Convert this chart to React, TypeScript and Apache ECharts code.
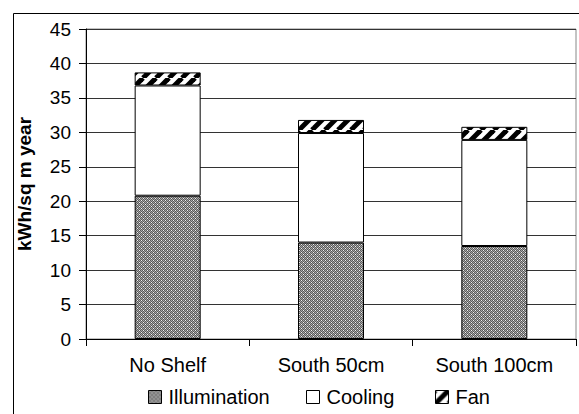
import React, { useEffect, useRef } from "react";
import * as echarts from "echarts";

const categories = ["No Shelf", "South 50cm", "South 100cm"];
const illumination = [20.8, 14.0, 13.5];
const cooling = [16.0, 15.9, 15.4];
const fan = [1.9, 1.9, 1.9];
const seriesNames = ["Illumination", "Cooling", "Fan"];
const yTicks = { min: 0, max: 45, interval: 5 };

const FONT = "Liberation Sans, Arial, sans-serif";

function checkerPattern(): HTMLCanvasElement {
  const c = document.createElement("canvas");
  c.width = 4;
  c.height = 4;
  const ctx = c.getContext("2d")!;
  ctx.fillStyle = "#a8a8a8";
  ctx.fillRect(0, 0, 4, 4);
  ctx.fillStyle = "#595959";
  for (let y = 0; y < 4; y++) {
    for (let x = 0; x < 4; x++) {
      if ((x + y) % 2 === 0) ctx.fillRect(x, y, 1, 1);
    }
  }
  ctx.fillStyle = "#f0f0f0";
  ctx.fillRect(1, 0, 1, 1);
  ctx.fillRect(3, 2, 1, 1);
  return c;
}

function stripePattern(): HTMLCanvasElement {
  const s = 13;
  const c = document.createElement("canvas");
  c.width = s;
  c.height = s;
  const ctx = c.getContext("2d")!;
  ctx.fillStyle = "#ffffff";
  ctx.fillRect(0, 0, s, s);
  ctx.strokeStyle = "#000000";
  ctx.lineWidth = 5;
  for (const off of [-s, 0, s]) {
    ctx.beginPath();
    ctx.moveTo(off, s);
    ctx.lineTo(off + s, 0);
    ctx.stroke();
  }
  return c;
}

export default function App() {
  const ref = useRef<HTMLDivElement>(null);

  useEffect(() => {
    if (!ref.current) return;
    const chart = echarts.init(ref.current, undefined, { renderer: "svg" });
    const checker = { image: checkerPattern(), repeat: "repeat" } as any;
    const stripes = { image: stripePattern(), repeat: "repeat" } as any;

    const barBase = {
      type: "bar" as const,
      stack: "total",
      barWidth: 66,
      emphasis: { disabled: true },
    };

    // one legend block per series, placed at fixed offsets along the bottom
    const legendLefts = [143, 301, 430];
    const legends = seriesNames.map((name, i) => ({
      left: legendLefts[i],
      bottom: 2,
      itemWidth: 13,
      itemHeight: 13,
      itemGap: 8,
      icon: "rect",
      selectedMode: false,
      textStyle: { fontFamily: FONT, fontSize: 20, color: "#000", padding: [0, 0, 0, 2] },
      itemStyle: { borderColor: "#000", borderWidth: 1 },
      data: [name],
    }));

    chart.setOption({
      animation: false,
      backgroundColor: "#ffffff",
      textStyle: { fontFamily: FONT },
      graphic: [
        {
          type: "rect",
          left: 11,
          top: 11,
          shape: { width: 620, height: 460 },
          style: { fill: "none", stroke: "#000", lineWidth: 1 },
          silent: true,
          z: 0,
        },
      ],
      grid: {
        left: 86,
        right: 3,
        top: 29,
        bottom: 75,
        show: true,
        borderColor: "#888",
        borderWidth: 1,
        backgroundColor: "transparent",
      },
      legend: legends,
      xAxis: {
        type: "category",
        data: categories,
        axisLine: { lineStyle: { color: "#000", width: 1 } },
        axisTick: { show: true, length: 7, lineStyle: { color: "#000" } },
        axisLabel: { color: "#000", fontSize: 20, margin: 16, fontFamily: FONT },
      },
      yAxis: {
        type: "value",
        min: yTicks.min,
        max: yTicks.max,
        interval: yTicks.interval,
        name: "kWh/sq m year",
        nameLocation: "middle",
        nameGap: 52,
        nameTextStyle: { color: "#000", fontSize: 19, fontWeight: "bold", fontFamily: FONT },
        axisLine: { show: true, lineStyle: { color: "#000", width: 1 } },
        axisTick: { show: true, length: 7, inside: false, lineStyle: { color: "#000" } },
        axisLabel: { color: "#000", fontSize: 19, margin: 15, fontFamily: FONT },
        splitLine: { show: true, lineStyle: { color: "#333", width: 1 } },
      },
      series: [
        {
          ...barBase,
          name: seriesNames[0],
          data: illumination,
          itemStyle: { color: checker, borderColor: "#000", borderWidth: 1 },
        },
        {
          ...barBase,
          name: seriesNames[1],
          data: cooling,
          itemStyle: { color: "#ffffff", borderColor: "#000", borderWidth: 1 },
        },
        {
          ...barBase,
          name: seriesNames[2],
          data: fan,
          itemStyle: { color: stripes, borderColor: "#000", borderWidth: 1 },
        },
      ],
    });

    return () => chart.dispose();
  }, []);

  return (
    <div
      ref={ref}
      style={{ position: "fixed", left: 0, top: 0, width: 579, height: 414 }}
    />
  );
}
